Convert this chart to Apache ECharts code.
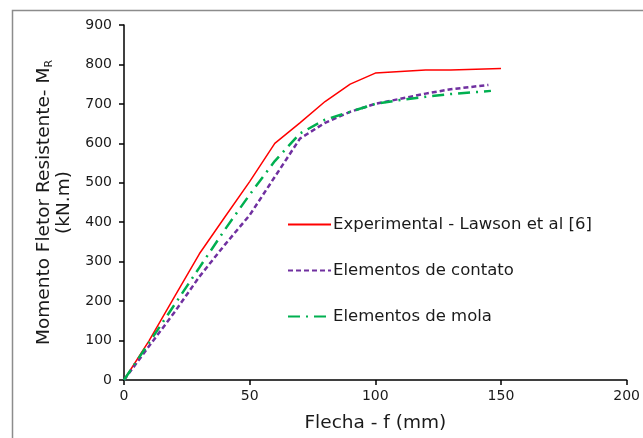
<!DOCTYPE html>
<html>
<head>
<meta charset="UTF-8">
<title>Momento Fletor x Flecha</title>
<script src="https://cdn.jsdelivr.net/npm/echarts@6/dist/echarts.min.js"></script>
<style>
  html, body { margin: 0; padding: 0; background: #fff; }
  #main { width: 643px; height: 438px; }
</style>
</head>
<body>
<div id="main"></div>
<script>
// dados
var xTicks = [0, 50, 100, 150, 200];
var yTicks = [0, 100, 200, 300, 400, 500, 600, 700, 800, 900];

var expF = [0, 10, 20, 30, 40, 50, 60, 70, 80, 90, 100, 120, 130, 150];
var expM = [0, 100, 210, 320, 412, 503, 600, 652, 706, 750, 778, 786, 786, 790];

var contF = [0, 10, 20, 30, 40, 50, 60, 70, 80, 90, 100, 110, 120, 130, 145];
var contM = [0, 86, 171, 262, 342, 418, 515, 612, 652, 680, 700, 713, 726, 737, 748];

var molaF = [0, 10, 20, 30, 40, 50, 60, 70, 80, 90, 100, 110, 120, 130, 146];
var molaM = [0, 95, 190, 285, 380, 470, 555, 625, 660, 680, 700, 710, 718, 725, 733];

function pares(xs, ys) {
    var out = [];
    for (var i = 0; i < xs.length; i++) out.push([xs[i], ys[i]]);
    return out;
}

var font = 'DejaVu Sans, Verdana, sans-serif';
var txt = '#1a1a1a';
var chart = echarts.init(document.getElementById('main'));

chart.setOption({
    animation: false,
    textStyle: { fontFamily: font },
    graphic: [{
        type: 'rect',
        shape: { x: 12.5, y: 10.5, width: 700, height: 500 },
        style: { fill: 'none', stroke: '#8c8c8c', lineWidth: 1.5 },
        silent: true
    }],
    grid: { left: 124, right: 13, top: 25, bottom: 56 },
    legend: {
        orient: 'vertical',
        left: 287,
        top: 216,
        padding: 0,
        itemWidth: 43,
        itemHeight: 16,
        itemGap: 29,
        itemStyle: { opacity: 0 },
        textStyle: { fontFamily: font, fontSize: 16.5, lineHeight: 16, color: txt, padding: [0, 0, 0, -3] },
        data: ['Experimental - Lawson et al [6]', 'Elementos de contato', 'Elementos de mola']
    },
    xAxis: {
        type: 'value',
        min: 0, max: 200, interval: 50,
        name: 'Flecha - f (mm)',
        nameLocation: 'middle',
        nameGap: 34,
        nameTextStyle: { fontFamily: font, fontSize: 18.5, color: txt },
        axisLine: { lineStyle: { color: '#000', width: 1.5 } },
        axisTick: { show: true, length: 5, lineStyle: { color: '#000', width: 1.5 } },
        axisLabel: { fontFamily: font, fontSize: 14, color: txt, margin: 9,
            formatter: function (v) { return xTicks.indexOf(v) >= 0 ? String(v) : ''; } },
        splitLine: { show: false }
    },
    yAxis: {
        type: 'value',
        min: 0, max: 900, interval: 100,
        name: 'Momento Fletor Resistente- M{sub|R}\n(kN.m)',
        nameLocation: 'middle',
        nameGap: 45,
        nameTextStyle: {
            fontFamily: font, fontSize: 18.5, color: txt, lineHeight: 20,
            rich: { sub: { fontFamily: font, fontSize: 11, color: txt, verticalAlign: 'bottom', padding: [8, 0, 0, 0] } }
        },
        axisLine: { show: true, lineStyle: { color: '#000', width: 1.5 } },
        axisTick: { show: true, length: 5, lineStyle: { color: '#000', width: 1.5 } },
        axisLabel: { fontFamily: font, fontSize: 14, color: txt, margin: 12,
            formatter: function (v) { return yTicks.indexOf(v) >= 0 ? String(v) : ''; } },
        splitLine: { show: false }
    },
    series: [{
        name: 'Experimental - Lawson et al [6]',
        type: 'line',
        data: pares(expF, expM),
        symbol: 'none',
        lineStyle: { color: '#ff0000', width: 1.5 },
        itemStyle: { color: '#ff0000' }
    }, {
        name: 'Elementos de contato',
        type: 'line',
        data: pares(contF, contM),
        symbol: 'none',
        lineStyle: { color: '#7030a0', width: 2.5, type: [5, 3] },
        itemStyle: { color: '#7030a0' }
    }, {
        name: 'Elementos de mola',
        type: 'line',
        data: pares(molaF, molaM),
        symbol: 'none',
        lineStyle: { color: '#00b050', width: 2.5, type: [12, 6, 2, 6] },
        itemStyle: { color: '#00b050' }
    }]
});
</script>
</body>
</html>
